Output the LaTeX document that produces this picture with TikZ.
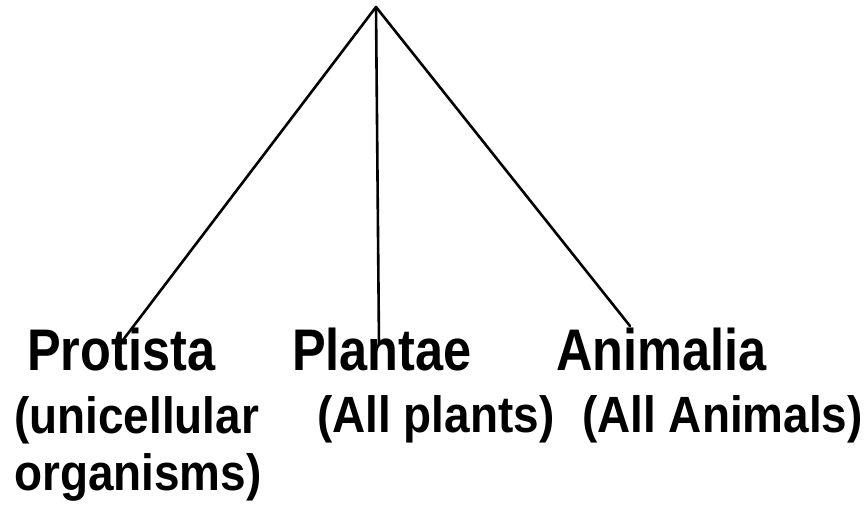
\documentclass[tikz,border=0pt]{standalone}
\usepackage{fontspec}
\setmainfont{Liberation Sans}
\newfontfamily\kingdomfont[FakeStretch=0.86]{Liberation Sans Bold}
\newfontfamily\glossfont[FakeStretch=0.9]{Liberation Sans Bold}
\usetikzlibrary{positioning}

\begin{document}
\begin{tikzpicture}[x=1pt, y=-1pt,
  kingdom/.style={anchor=base west, inner sep=0pt, font=\kingdomfont\fontsize{58.7}{62}\selectfont},
  gloss/.style={anchor=base west, inner sep=0pt, font=\glossfont\fontsize{51}{57}\selectfont},
  branch/.style={line width=2.6pt, line cap=round}]
\useasboundingbox (0,0) rectangle (867,505);
\coordinate (root) at (376,7);
% kingdoms
\node[kingdom] (protista) at (27,370) {Protista};
\node[kingdom] (plantae) at (292,370) {Plantae};
\node[kingdom] (animalia) at (556,370) {Animalia};
\node[gloss] (protista note) at (14,433) {(unicellular};
\node[gloss] (protista note2) at (14,490) {organisms)};
\node[gloss] (plantae note) at (317,432) {(All plants)};
\node[gloss] (animalia note) at (582,432) {(All Animals)};
% branch ends
\coordinate (protista end) at (123,340);
\coordinate (plantae end) at (379,345);
\coordinate (animalia end) at (630,326);
\foreach \k in {protista,plantae,animalia} {
  \draw[branch] (root) -- (\k\space end);
}
\end{tikzpicture}
\end{document}
